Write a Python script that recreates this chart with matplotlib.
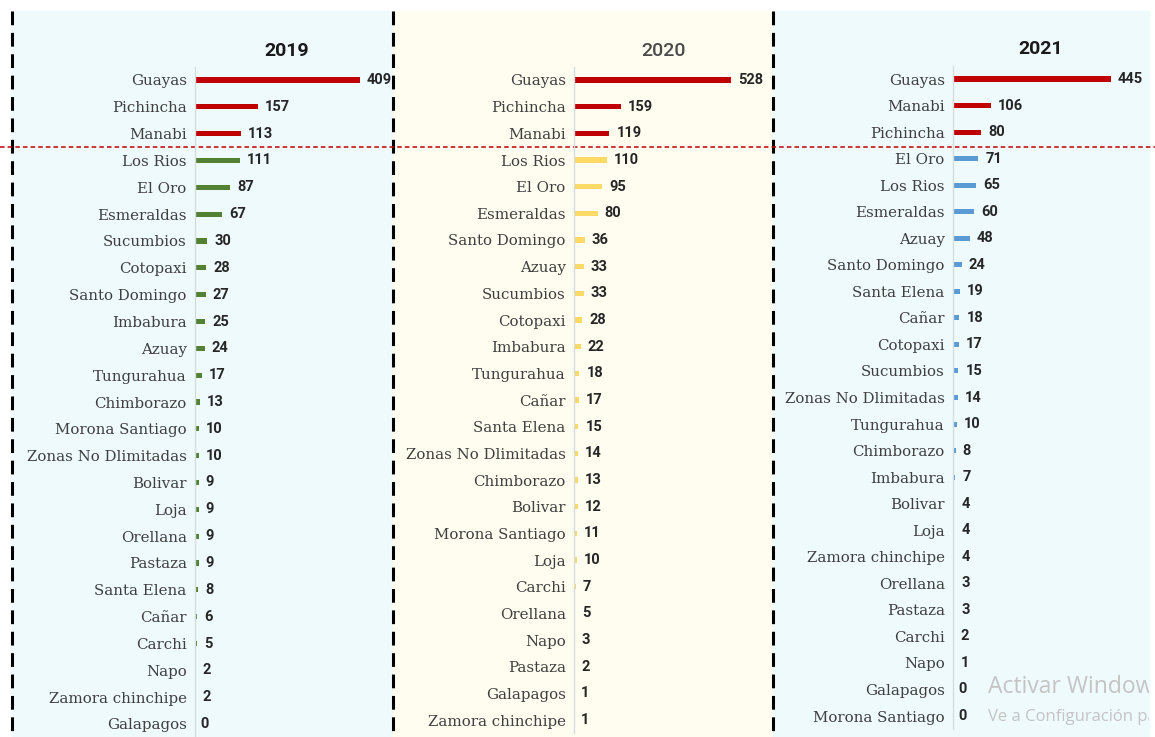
import matplotlib.pyplot as plt
from matplotlib.patches import Rectangle
from matplotlib.lines import Line2D

W, H = 1155, 737

# datos por año (ordenados de mayor a menor)
prov_2019 = ["Guayas", "Pichincha", "Manabi", "Los Rios", "El Oro", "Esmeraldas",
             "Sucumbios", "Cotopaxi", "Santo Domingo", "Imbabura", "Azuay",
             "Tungurahua", "Chimborazo", "Morona Santiago", "Zonas No Dlimitadas",
             "Bolivar", "Loja", "Orellana", "Pastaza", "Santa Elena", "Cañar",
             "Carchi", "Napo", "Zamora chinchipe", "Galapagos"]
val_2019 = [409, 157, 113, 111, 87, 67, 30, 28, 27, 25, 24, 17, 13, 10, 10,
            9, 9, 9, 9, 8, 6, 5, 2, 2, 0]

prov_2020 = ["Guayas", "Pichincha", "Manabi", "Los Rios", "El Oro", "Esmeraldas",
             "Santo Domingo", "Azuay", "Sucumbios", "Cotopaxi", "Imbabura",
             "Tungurahua", "Cañar", "Santa Elena", "Zonas No Dlimitadas",
             "Chimborazo", "Bolivar", "Morona Santiago", "Loja", "Carchi",
             "Orellana", "Napo", "Pastaza", "Galapagos", "Zamora chinchipe"]
val_2020 = [528, 159, 119, 110, 95, 80, 36, 33, 33, 28, 22, 18, 17, 15, 14,
            13, 12, 11, 10, 7, 5, 3, 2, 1, 1]

prov_2021 = ["Guayas", "Manabi", "Pichincha", "El Oro", "Los Rios", "Esmeraldas",
             "Azuay", "Santo Domingo", "Santa Elena", "Cañar", "Cotopaxi",
             "Sucumbios", "Zonas No Dlimitadas", "Tungurahua", "Chimborazo",
             "Imbabura", "Bolivar", "Loja", "Zamora chinchipe", "Orellana",
             "Pastaza", "Carchi", "Napo", "Galapagos", "Morona Santiago"]
val_2021 = [445, 106, 80, 71, 65, 60, 48, 24, 19, 18, 17, 15, 14, 10, 8, 7,
            4, 4, 4, 3, 3, 2, 1, 0, 0]

years = ["2019", "2020", "2021"]
top_n = 3

RED = "#c00000"
NUM_FONT = ["Liberation Sans Narrow", "Roboto", "DejaVu Sans"]

fig = plt.figure(figsize=(W / 100, H / 100), dpi=100)

def fx(px):
    return px / W

def fy(py):
    return 1 - py / H

# fondos de cada panel
bg = fig.add_axes([0, 0, 1, 1])
bg.set_xlim(0, W)
bg.set_ylim(H, 0)
bg.axis("off")
bg.add_patch(Rectangle((12, 11), 381, H, color="#eefafc", zorder=0))
bg.add_patch(Rectangle((393, 11), 380, H, color="#fffdef", zorder=0))
bg.add_patch(Rectangle((773, 11), 376, H, color="#eefafc", zorder=0))
for x in [12, 393, 773]:
    bg.add_line(Line2D([x, x], [11, H], color="black", lw=2.2,
                       dashes=(4.5, 2.5), zorder=5))
bg.add_line(Line2D([0, W], [147, 147], color=RED, lw=1.1,
                   dashes=(3, 2), zorder=5))
# marca de agua de Windows (cortada en el borde, como en la captura)
clip = Rectangle((0, 0), 1149, H, transform=bg.transData)
wm1 = bg.text(988, 687, "Activar Windows", fontsize=16.5, color="#c4c4c4",
              family="Open Sans", va="center", zorder=1)
wm2 = bg.text(988, 717, "Ve a Configuración para activar Windows.", fontsize=12,
              color="#c4c4c4", family="Open Sans", va="center", zorder=1)
for t in (wm1, wm2):
    t.set_clip_on(True)
    t.set_clip_path(clip)

# geometría de cada panel: x del eje, fin del panel, y de la primera y última fila, px por unidad
panels = [
    (prov_2019, val_2019, "#548235", 195, 393, 80, 724, 0.403, 287, 51, "bold", "#1a1a1a"),
    (prov_2020, val_2020, "#ffd966", 574, 773, 80, 720, 0.297, 663, 51, "medium", "#4a4a4a"),
    (prov_2021, val_2021, "#5b9bd5", 953, 1149, 79, 716, 0.355, 1041, 49, "bold", "#1a1a1a"),
]

for i, (names, vals, col, x0, x1, y_first, y_last, scale, tx, ty, tw, tc) in enumerate(panels):
    n = len(names)
    step = (y_last - y_first) / (n - 1)
    top = y_first - step / 2
    bottom = y_last + step / 2
    ax = fig.add_axes([fx(x0), fy(bottom), fx(x1 - x0), (bottom - top) / H])
    ax.patch.set_alpha(0)
    ypos = list(range(n))
    colors = [RED if k < top_n else col for k in ypos]
    ax.barh(ypos, vals, height=0.19, color=colors)
    ax.set_ylim(n - 0.5, -0.5)
    ax.set_xlim(0, (x1 - x0) / scale)
    ax.set_yticks(ypos)
    ax.set_yticklabels(names, family="DejaVu Serif", fontsize=10.8, color="#3f3f3f")
    ax.tick_params(axis="y", length=0, pad=6)
    ax.set_xticks([])
    for s in ["top", "right", "bottom"]:
        ax.spines[s].set_visible(False)
    ax.spines["left"].set_color("#d6dde0")
    ax.spines["left"].set_linewidth(1)
    for k, v in enumerate(vals):
        off = 7 / scale if v > 0 else 5 / scale
        ax.text(v + off, k, str(v), va="center", ha="left", fontsize=10.5,
                family=NUM_FONT, fontweight="bold", color="#262626")
    fig.text(fx(tx), fy(ty), years[i], ha="center", va="center", fontsize=14,
             family=NUM_FONT, fontweight=tw, color=tc)

fig.savefig("out.png", dpi=100)
